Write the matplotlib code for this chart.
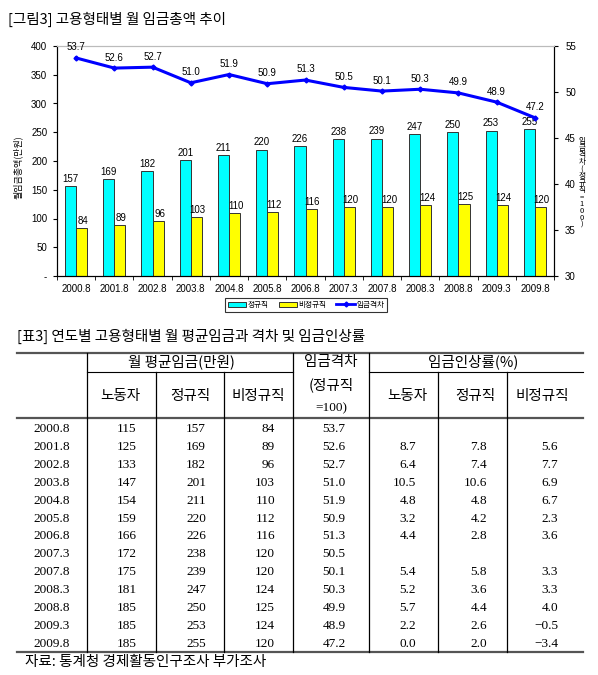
import matplotlib
matplotlib.use("Agg")
import matplotlib.pyplot as plt
import numpy as np
from matplotlib.lines import Line2D
from matplotlib.patches import Patch

# 데이터
periods = ['2000.8', '2001.8', '2002.8', '2003.8', '2004.8', '2005.8', '2006.8',
           '2007.3', '2007.8', '2008.3', '2008.8', '2009.3', '2009.8']
workers = [115, 125, 133, 147, 154, 159, 166, 172, 175, 181, 185, 185, 185]
regular = [157, 169, 182, 201, 211, 220, 226, 238, 239, 247, 250, 253, 255]
nonregular = [84, 89, 96, 103, 110, 112, 116, 120, 120, 124, 125, 124, 120]
gap = [53.7, 52.6, 52.7, 51.0, 51.9, 50.9, 51.3, 50.5, 50.1, 50.3, 49.9, 48.9, 47.2]
rise_workers = [None, 8.7, 6.4, 10.5, 4.8, 3.2, 4.4, None, 5.4, 5.2, 5.7, 2.2, 0.0]
rise_regular = [None, 7.8, 7.4, 10.6, 4.8, 4.2, 2.8, None, 5.8, 3.6, 4.4, 2.6, 2.0]
rise_nonreg = [None, 5.6, 7.7, 6.9, 6.7, 2.3, 3.6, None, 3.3, 3.3, 4.0, -0.5, -3.4]

KR = ['Noto Sans CJK KR', 'DejaVu Sans']
SANS = ['Liberation Sans', 'Noto Sans CJK KR']
SERIF = ['Liberation Serif', 'Noto Sans CJK KR']

W, H = 598, 675
fig = plt.figure(figsize=(W / 100, H / 100), dpi=100)


def fx(px):
    return px / W


def fy(py):
    return 1 - py / H


# ---- 차트 ----
ax = fig.add_axes([fx(57), fy(276), fx(554) - fx(57), fy(46) - fy(276)])
x = np.arange(len(periods))
w = 0.29
ax.bar(x - w / 2, regular, w, color='#00FFFF', edgecolor='#333333', lw=0.7)
ax.bar(x + w / 2, nonregular, w, color='#FFFF00', edgecolor='#333333', lw=0.7)
for i in range(len(periods)):
    ax.annotate(str(regular[i]), (x[i] - w / 2, regular[i]), xytext=(0, 1.5),
                textcoords='offset points', ha='center', va='bottom', fontsize=7, family=SANS)
    ax.annotate(str(nonregular[i]), (x[i] + w / 2, nonregular[i]), xytext=(1, 1.5),
                textcoords='offset points', ha='center', va='bottom', fontsize=7, family=SANS)
ax.set_xlim(-0.5, len(periods) - 0.5)
ax.set_ylim(0, 400)
ax.set_yticks(range(0, 401, 50))
ax.set_yticklabels(['-'] + [str(v) for v in range(50, 401, 50)], fontsize=7, family=SANS)
ax.set_xticks(x)
ax.set_xticklabels(periods, fontsize=7, family=SANS)
ax.set_xticks(np.arange(-0.5, len(periods), 1), minor=True)
ax.tick_params(axis='x', which='major', length=0, pad=6)
ax.tick_params(axis='x', which='minor', length=3)
ax.tick_params(axis='y', length=3, pad=4)
ax.spines['top'].set_color('#bbbbbb')

ax2 = ax.twinx()
ax2.plot(x, gap, color='#0000FF', lw=2.2, marker='D', ms=2.5)
for i in range(len(periods)):
    ax2.annotate(f'{gap[i]:.1f}', (x[i], gap[i]), xytext=(0, 4), textcoords='offset points',
                 ha='center', va='bottom', fontsize=7, family=SANS)
ax2.set_ylim(30, 55)
ax2.set_yticks(range(30, 56, 5))
ax2.set_yticklabels([str(v) for v in range(30, 56, 5)], fontsize=7, family=SANS)
ax2.tick_params(axis='y', length=3, pad=5)
ax2.spines['top'].set_color('#bbbbbb')

fig.text(fx(18), fy(167), '월임금총액(만원)', rotation=90, ha='center', va='center',
         fontsize=6.5, family=KR)
fig.text(fx(582), fy(183), '\n'.join('임금격차(정규직=100)'), ha='center', va='center',
         fontsize=5.5, family=KR, linespacing=0.82)

handles = [Patch(facecolor='#00FFFF', edgecolor='#333333', lw=0.7),
           Patch(facecolor='#FFFF00', edgecolor='#333333', lw=0.7),
           Line2D([0], [0], color='#0000FF', lw=2, marker='D', ms=2.5)]
leg = fig.legend(handles, ['정규직', '비정규직', '임금격차'], loc='center',
                 bbox_to_anchor=(fx(306), fy(305)), ncol=3, frameon=True, fancybox=False,
                 prop={'family': KR, 'size': 5.5}, handlelength=2.4, handleheight=0.6,
                 handletextpad=0.2, columnspacing=1.3, borderpad=0.35)
leg.get_frame().set_edgecolor('black')
leg.get_frame().set_linewidth(0.8)

# ---- 제목, 표 ----
tab = fig.add_axes([0, 0, 1, 1])
tab.set_xlim(0, W)
tab.set_ylim(H, 0)
tab.axis('off')
tab.patch.set_visible(False)

tab.text(8, 19, '[그림3] 고용형태별 월 임금총액 추이', fontsize=10.5, family=KR, va='center', ha='left')
tab.text(17, 336, '[표3] 연도별 고용형태별 월 평균임금과 격차 및 임금인상률', fontsize=10.5,
         family=KR, va='center', ha='left')
tab.text(25, 662, '자료: 통계청 경제활동인구조사 부가조사', fontsize=10.5, family=KR, va='center', ha='left')

left, right = 17, 583
top, mid, hbot, bot = 353, 372, 418, 652
for yy in (top, hbot, bot):
    tab.plot([left, right], [yy, yy], color='#555555', lw=1.6)
tab.plot([87, 293], [mid, mid], color='black', lw=0.8)
tab.plot([369, right], [mid, mid], color='black', lw=0.8)
for xx in (87, 293, 369):
    tab.plot([xx, xx], [top, bot], color='black', lw=0.9)
for xx in (156, 224, 438, 507):
    tab.plot([xx, xx], [mid, bot], color='black', lw=0.9)

hs = 10.5
tab.text(181, 362, '월 평균임금(만원)', fontsize=hs, family=KR, ha='center', va='center')
tab.text(473, 362, '임금인상률(%)', fontsize=hs, family=KR, ha='center', va='center')
tab.text(331, 362, '임금격차', fontsize=hs, family=KR, ha='center', va='center')
tab.text(331, 385, '(정규직', fontsize=hs, family=KR, ha='center', va='center')
tab.text(331, 408, '=100)', fontsize=9.5, family=SERIF, ha='center', va='center')
for cx, lab in zip((120, 190, 258, 407, 475, 542),
                   ('노동자', '정규직', '비정규직', '노동자', '정규직', '비정규직')):
    tab.text(cx, 396, lab, fontsize=hs, family=KR, ha='center', va='center')


def fmt(v):
    return '' if v is None else f'{v:.1f}'


ds = 9.5
for i in range(len(periods)):
    yy = 429 + i * 17.9
    tab.text(52, yy, periods[i], fontsize=ds, family=SERIF, ha='center', va='center')
    tab.text(127, yy, str(workers[i]), fontsize=ds, family=SERIF, ha='center', va='center')
    tab.text(196, yy, str(regular[i]), fontsize=ds, family=SERIF, ha='center', va='center')
    tab.text(275, yy, str(nonregular[i]), fontsize=ds, family=SERIF, ha='right', va='center')
    tab.text(334, yy, f'{gap[i]:.1f}', fontsize=ds, family=SERIF, ha='center', va='center')
    tab.text(416, yy, fmt(rise_workers[i]), fontsize=ds, family=SERIF, ha='right', va='center')
    tab.text(487, yy, fmt(rise_regular[i]), fontsize=ds, family=SERIF, ha='right', va='center')
    tab.text(558, yy, fmt(rise_nonreg[i]).replace('-', '\u2212'), fontsize=ds, family=SERIF,
             ha='right', va='center')

fig.savefig('out.png', dpi=100)
